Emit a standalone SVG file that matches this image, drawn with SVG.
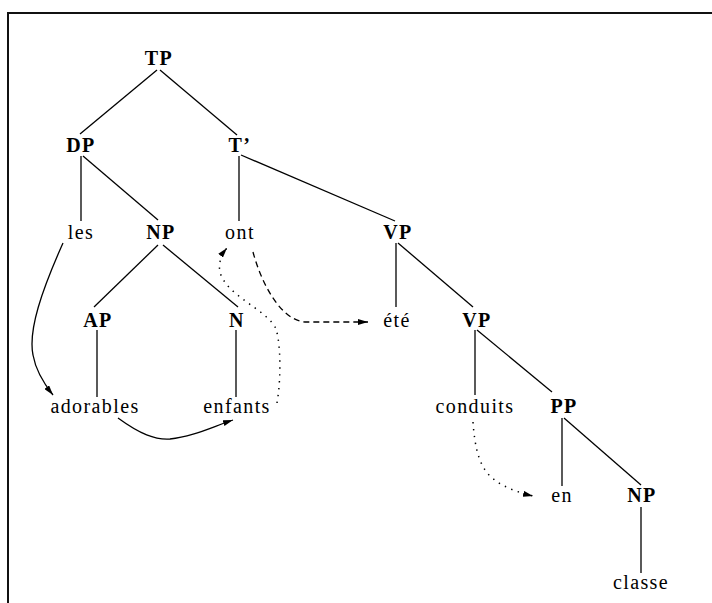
<svg xmlns="http://www.w3.org/2000/svg" width="712" height="603" viewBox="0 0 712 603">
<style>
text{font-family:"Liberation Serif","Times New Roman",serif;font-size:20px;fill:#000;text-anchor:middle;letter-spacing:1.4px}
.cat{font-weight:bold}
.edge{stroke:#000;stroke-width:1.3;fill:none}
.mv{stroke:#000;stroke-width:1.3;fill:none}
.dash{stroke-dasharray:6 4}
.dot{stroke-dasharray:1.4 5.5;stroke-width:1.5}
</style>
<defs>
<marker id="ah" viewBox="0 0 10 6" refX="10" refY="3" markerWidth="10" markerHeight="6" markerUnits="userSpaceOnUse" orient="auto">
<path d="M0,0 L10,3 L0,6 Z" fill="#000"/>
</marker>
</defs>
<rect width="712" height="603" fill="#fff"/>
<path d="M8,603 L8,13 L712,13" fill="none" stroke="#111" stroke-width="2"/>
<g id="connectors">
<line class="edge" x1="157" y1="70" x2="80" y2="134"/>
<line class="edge" x1="160" y1="70" x2="237" y2="135"/>
<line class="edge" x1="81" y1="156" x2="81" y2="221"/>
<line class="edge" x1="83" y1="156" x2="158" y2="220"/>
<line class="edge" x1="239" y1="156" x2="239" y2="221"/>
<line class="edge" x1="241" y1="155" x2="395" y2="221"/>
<line class="edge" x1="158" y1="245" x2="94" y2="307"/>
<line class="edge" x1="163" y1="245" x2="238" y2="307"/>
<line class="edge" x1="97" y1="330" x2="97" y2="397"/>
<line class="edge" x1="236" y1="330" x2="236" y2="397"/>
<line class="edge" x1="396" y1="243" x2="396" y2="307"/>
<line class="edge" x1="398" y1="243" x2="473" y2="307"/>
<line class="edge" x1="475" y1="330" x2="475" y2="395"/>
<line class="edge" x1="477" y1="330" x2="552" y2="392"/>
<line class="edge" x1="562" y1="418" x2="562" y2="486"/>
<line class="edge" x1="564" y1="418" x2="641" y2="485"/>
<line class="edge" x1="641" y1="507" x2="641" y2="573"/>
<path class="mv" d="M63,243 C42,290 28,330 33,355 C36,372 45,385 53,395" marker-end="url(#ah)"/>
<path class="mv" d="M118,418 C140,434 155,440 170,439 C192,437 212,427 233,420" marker-end="url(#ah)"/>
<path class="mv dot" d="M277,403 C281,380 281,345 276,329 C268,310 226,296 220,272 C218,262 222,254 227,248" marker-end="url(#ah)"/>
<path class="mv dash" d="M253,252 C261,282 280,320 305,322 L368,322" marker-end="url(#ah)"/>
<path class="mv dot" d="M473,422 C475,450 480,470 495,480 C505,488 520,493 533,496" marker-end="url(#ah)"/>
</g>
<g id="TP"><text class="cat" x="159" y="65">TP</text></g>
<g id="DP"><text class="cat" x="81" y="152">DP</text></g>
<g id="Tbar"><text class="cat" x="240" y="152">T’</text></g>
<g id="les"><text x="81" y="239">les</text></g>
<g id="NP1"><text class="cat" x="161" y="239">NP</text></g>
<g id="ont"><text x="240" y="239">ont</text></g>
<g id="VP1"><text class="cat" x="398" y="239">VP</text></g>
<g id="AP"><text class="cat" x="98" y="327">AP</text></g>
<g id="N"><text class="cat" x="237" y="327">N</text></g>
<g id="ete"><text x="397" y="327">été</text></g>
<g id="VP2"><text class="cat" x="477" y="327">VP</text></g>
<g id="adorables"><text x="95" y="413">adorables</text></g>
<g id="enfants"><text x="237" y="413">enfants</text></g>
<g id="conduits"><text x="475" y="413">conduits</text></g>
<g id="PP"><text class="cat" x="564" y="413">PP</text></g>
<g id="en"><text x="562" y="502">en</text></g>
<g id="NP2"><text class="cat" x="642" y="502">NP</text></g>
<g id="classe"><text x="641" y="589">classe</text></g>
</svg>
